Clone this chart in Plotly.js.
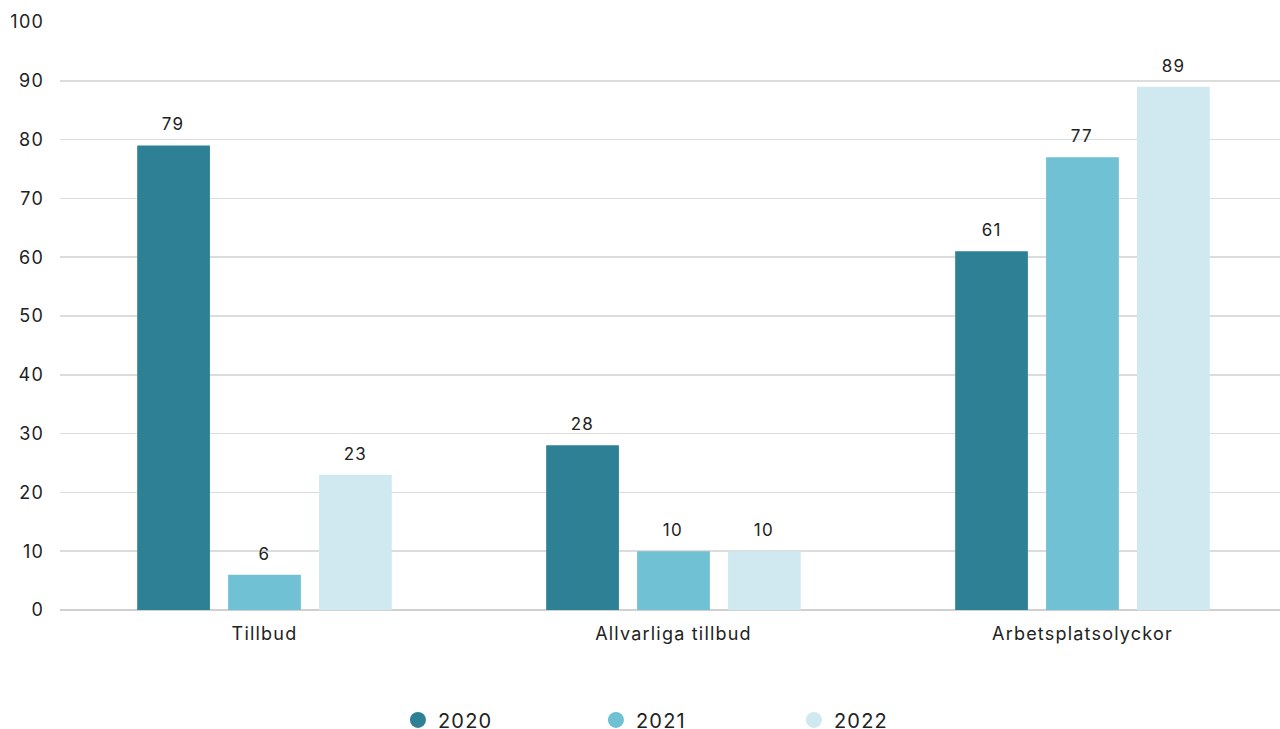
<!DOCTYPE html>
<html><head><meta charset="utf-8">
<script src="https://cdn.plot.ly/plotly-3.0.1.min.js"></script>
<style>html,body{margin:0;padding:0;background:#fff;}#chart{width:1280px;height:729px;}#chart text{letter-spacing:1.2px;}</style>
</head><body><div id="chart"></div>
<script>
const categories = ["Tillbud", "Allvarliga tillbud", "Arbetsplatsolyckor"];
const years = ["2020", "2021", "2022"];
const values2020 = [79, 28, 61];
const values2021 = [6, 10, 77];
const values2022 = [23, 10, 89];
const colors = ["#2e8194", "#6fc1d3", "#d0e9f0"];
const yTicks = [0, 10, 20, 30, 40, 50, 60, 70, 80, 90, 100];

const series = [values2020, values2021, values2022];
const fontFam = "Inter, 'Noto Sans', sans-serif";
const traces = [];
series.forEach((vals, i) => {
  traces.push({type: "bar", x: categories, y: vals, name: years[i],
    marker: {color: colors[i]}, showlegend: false, hoverinfo: "y"});
});
series.forEach((vals, i) => {
  traces.push({type: "scatter", mode: "markers", x: [null], y: [null], name: years[i],
    marker: {color: colors[i], size: 22, symbol: "circle"}, showlegend: true});
});
const shifts = [-91, 0, 91];
const annotations = [];
series.forEach((vals, i) => {
  vals.forEach((v, j) => {
    annotations.push({x: categories[j], y: v, xref: "x", yref: "y", text: String(v),
      showarrow: false, xshift: shifts[i], yshift: 21, font: {size: 17, color: "#222", family: fontFam}});
  });
});
const layout = {
  width: 1280, height: 729,
  margin: {l: 60, r: 0, t: 22, b: 119, autoexpand: false},
  paper_bgcolor: "#fff", plot_bgcolor: "#fff",
  font: {family: fontFam, size: 18, color: "#222"},
  barmode: "group", bargap: 0.333, bargroupgap: 0.2,
  xaxis: {type: "category", range: [-0.5, 2.483], showgrid: false, showline: false, zeroline: false,
    ticks: "", tickfont: {size: 18, color: "#222"}, ticklabelstandoff: 11, fixedrange: true},
  yaxis: {range: [0, 100], tickvals: yTicks, showgrid: true, gridcolor: "#dcdcdc", gridwidth: 1.5,
    zeroline: true, zerolinecolor: "#d0d0d0", zerolinewidth: 1.5, showline: false,
    tickfont: {size: 18, color: "#222"}, ticklabelstandoff: 15, fixedrange: true},
  legend: {orientation: "h", x: 0.277, xanchor: "left", y: -0.187, yanchor: "middle",
    font: {size: 20, color: "#222"}, entrywidth: 153, entrywidthmode: "pixels", itemsizing: "trace"},
  annotations: annotations,
  showlegend: true
};
Plotly.newPlot("chart", traces, layout, {displayModeBar: false, staticPlot: true});
</script></body></html>
